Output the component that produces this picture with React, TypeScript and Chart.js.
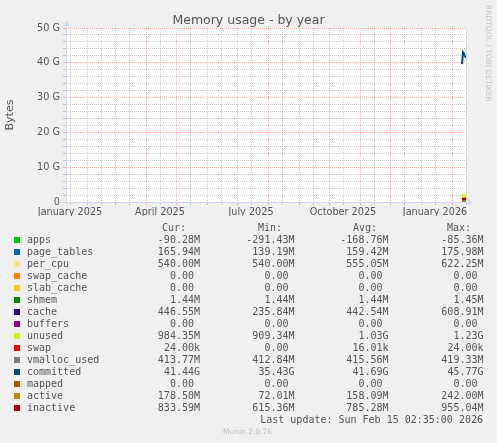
import { useEffect, useRef } from 'react';
import { Chart, registerables, Plugin } from 'chart.js';

Chart.register(...registerables);

const W = 497;
const H = 443;

// x is "days since 2025-01-01"; one pixel per day in the year graph
const xMin = 10; // 2025-01-11
const xMax = 410; // 2026-02-15
const monthStarts = [31, 59, 90, 120, 151, 181, 212, 243, 273, 304, 334, 365, 396];
const midMonths = [14, 45, 73, 104, 134, 165, 195, 226, 257, 287, 318, 348, 379, 410];
const xLabelDays = [14, 104, 195, 287, 379];
const xLabelTexts = ['January 2025', 'April 2025', 'July 2025', 'October 2025', 'January 2026'];

const yMax = 50;
const yGridValues = [0, 2, 4, 6, 8, 10, 12, 14, 16, 18, 20, 22, 24, 26, 28, 30, 32, 34, 36, 38, 40, 42, 44, 46, 48, 50];
const yLabelValues = [0, 10, 20, 30, 40, 50];
const yLabelTexts = ['0', '10 G', '20 G', '30 G', '40 G', '50 G'];

// only the last few days hold data (values in G)
const sampleDays = [406, 407, 408, 409, 410];
const apps = [-0.21, -0.26, -0.17, -0.12, -0.09];
const pageTables = [0.15, 0.16, 0.16, 0.17, 0.17];
const perCpu = [0.62, 0.55, 0.54, 0.54, 0.54];
const swapCache = [0, 0, 0, 0, 0];
const slabCache = [0, 0, 0, 0, 0];
const shmem = [0.0014, 0.0014, 0.0014, 0.0014, 0.0014];
const cache = [0.25, 0.42, 0.55, 0.5, 0.44];
const buffers = [0, 0, 0, 0, 0];
const unused = [1.2, 1.05, 0.93, 0.96, 0.96];
const swap = [0, 0.00002, 0.00002, 0.00002, 0.00002];
const vmallocUsed = [0.41, 0.414, 0.416, 0.417, 0.414];
const committed = [39.6, 43.0, 42.6, 41.9, 41.44];
const mapped = [0, 0, 0, 0, 0];
const active = [0.24, 0.16, 0.13, 0.15, 0.17];
const inactive = [0.65, 0.76, 0.84, 0.86, 0.81];

const seriesNames = ['apps', 'page_tables', 'per_cpu', 'swap_cache', 'slab_cache', 'shmem', 'cache', 'buffers',
  'unused', 'swap', 'vmalloc_used', 'committed', 'mapped', 'active', 'inactive'];
const seriesColors = ['#00CC00', '#0066B3', '#FFE680', '#FF8000', '#FFCC00', '#008F00', '#330099', '#990099',
  '#CCFF00', '#FF0000', '#808080', '#00487D', '#B35A00', '#B38F00', '#B30000'];
const seriesValues = [apps, pageTables, perCpu, swapCache, slabCache, shmem, cache, buffers,
  unused, swap, vmallocUsed, committed, mapped, active, inactive];
const stackedCount = 10; // first ten are stacked areas, rest are lines

const curValues = ['-90.28M', '165.94M', '540.00M', '0.00', '0.00', '1.44M', '446.55M', '0.00', '984.35M', '24.00k', '413.77M', '41.44G', '0.00', '178.50M', '833.59M'];
const minValues = ['-291.43M', '139.19M', '540.00M', '0.00', '0.00', '1.44M', '235.84M', '0.00', '909.34M', '0.00', '412.84M', '35.43G', '0.00', '72.01M', '615.36M'];
const avgValues = ['-168.76M', '159.42M', '555.05M', '0.00', '0.00', '1.44M', '442.54M', '0.00', '1.03G', '16.01k', '415.56M', '41.69G', '0.00', '158.09M', '785.28M'];
const maxValues = ['-85.36M', '175.98M', '622.25M', '0.00', '0.00', '1.45M', '608.91M', '0.00', '1.23G', '24.00k', '419.33M', '45.77G', '0.00', '242.00M', '955.04M'];

const GRID = 'rgba(130,130,130,0.42)';
const MGRID = 'rgba(225,70,70,0.4)';
const AXIS = '#CFD6F8';
const FONT = '#555';
const SANS = '"DejaVu Sans", sans-serif';
const MONO = '"DejaVu Sans Mono", monospace';

const frame: Plugin = {
  id: 'frame',
  beforeDraw(chart) {
    const { ctx, chartArea: a } = chart;
    ctx.save();
    ctx.fillStyle = '#FFFFFF';
    ctx.fillRect(a.left, a.top, a.right - a.left, a.bottom - a.top);
    ctx.restore();
  },
  afterDraw(chart) {
    const { ctx, chartArea: a } = chart;
    const x0 = Math.round(a.left) + 0.5;
    const y0 = Math.round(a.bottom) + 0.5;
    ctx.save();
    ctx.strokeStyle = AXIS;
    ctx.fillStyle = AXIS;
    ctx.lineWidth = 1;
    ctx.beginPath();
    ctx.moveTo(x0, y0 + 2);
    ctx.lineTo(x0, a.top - 3);
    ctx.moveTo(x0 - 2, y0);
    ctx.lineTo(a.right + 3, y0);
    ctx.stroke();
    ctx.beginPath();
    ctx.moveTo(x0, a.top - 7);
    ctx.lineTo(x0 - 3, a.top - 2);
    ctx.lineTo(x0 + 3, a.top - 2);
    ctx.closePath();
    ctx.fill();
    ctx.beginPath();
    ctx.moveTo(a.right + 7, y0);
    ctx.lineTo(a.right + 2, y0 - 3);
    ctx.lineTo(a.right + 2, y0 + 3);
    ctx.closePath();
    ctx.fill();
    ctx.restore();
  },
};

function fmt(v: string) {
  return /[0-9]$/.test(v) ? v + ' ' : v;
}

export default function App() {
  const canvasRef = useRef<HTMLCanvasElement>(null);

  useEffect(() => {
    if (!canvasRef.current) return;
    const pts = (vals: number[]) => sampleDays.map((d, i) => ({ x: d, y: vals[i] }));

    const lineSets = seriesNames.slice(stackedCount).map((name, j) => {
      const i = stackedCount + j;
      return {
        label: name,
        data: pts(seriesValues[i]),
        stack: 'line_' + name,
        borderColor: seriesColors[i],
        backgroundColor: seriesColors[i],
        borderWidth: 2,
        pointRadius: 0,
        fill: false,
      };
    });
    const areaSets = seriesNames.slice(0, stackedCount).map((name, i) => ({
      label: name,
      data: pts(seriesValues[i]),
      stack: 'mem',
      borderColor: seriesColors[i],
      backgroundColor: seriesColors[i],
      borderWidth: 0,
      pointRadius: 0,
      fill: i === 0 ? 'origin' : 'stack',
    }));

    const chart = new Chart(canvasRef.current, {
      type: 'line',
      data: { datasets: [...lineSets.reverse(), ...areaSets] as any },
      options: {
        responsive: false,
        animation: false,
        layout: { padding: { left: 0, top: 28, right: 31, bottom: 227 } },
        plugins: {
          legend: { display: false },
          tooltip: { enabled: false },
          title: { display: false },
        },
        scales: {
          x: {
            type: 'linear',
            min: xMin,
            max: xMax,
            afterBuildTicks: (scale: any) => {
              scale.ticks = [...monthStarts, ...midMonths].sort((a, b) => a - b).map(v => ({ value: v }));
            },
            afterFit: (scale: any) => { scale.height = 14; },
            ticks: {
              autoSkip: false,
              maxRotation: 0,
              padding: 2,
              color: FONT,
              font: { family: SANS, size: 9.7 },
              callback: (v: any) => {
                const k = xLabelDays.indexOf(Number(v));
                return k >= 0 ? xLabelTexts[k] : '';
              },
            },
            grid: {
              color: (c: any) => (monthStarts.includes(c.tick?.value) ? MGRID : GRID),
              tickColor: (c: any) => (monthStarts.includes(c.tick?.value) ? MGRID : GRID),
              tickLength: 3,
              tickBorderDash: [],
              lineWidth: 1,
            },
            border: { display: false, dash: [1, 1] },
          },
          y: {
            type: 'linear',
            min: 0,
            max: yMax,
            stacked: true,
            afterBuildTicks: (scale: any) => {
              scale.ticks = yGridValues.map(v => ({ value: v }));
            },
            afterFit: (scale: any) => { scale.width = 66; },
            ticks: {
              autoSkip: false,
              padding: 3,
              color: FONT,
              font: { family: SANS, size: 9.7 },
              callback: (v: any) => {
                const k = yLabelValues.indexOf(Number(v));
                return k >= 0 ? yLabelTexts[k] : '';
              },
            },
            grid: {
              color: (c: any) => (yLabelValues.includes(c.tick?.value) ? MGRID : GRID),
              tickColor: (c: any) => (yLabelValues.includes(c.tick?.value) ? MGRID : GRID),
              tickLength: 3,
              tickBorderDash: [],
              lineWidth: 1,
            },
            border: { display: false, dash: [1, 1] },
            title: {
              display: true,
              text: 'Bytes',
              color: FONT,
              font: { family: SANS, size: 11 },
              padding: { top: 4, bottom: 0 },
            },
          },
        },
      },
      plugins: [frame],
    });

    return () => {
      chart.destroy();
    };
  }, []);

  const rowTop = (i: number) => 240 + 12 * i - 6;
  const cols = [
    { values: curValues, right: 200, head: 'Cur:', headLeft: 162 },
    { values: minValues, right: 294.5, head: 'Min:', headLeft: 258 },
    { values: avgValues, right: 388.5, head: 'Avg:', headLeft: 353 },
    { values: maxValues, right: 483.5, head: 'Max:', headLeft: 447 },
  ];
  const mono = { position: 'absolute' as const, fontFamily: MONO, fontSize: 10, lineHeight: '12px', color: FONT, whiteSpace: 'pre' as const };

  return (
    <div style={{ position: 'fixed', left: 0, top: 0, width: W, height: H, background: '#F0F0F0', overflow: 'hidden' }}>
      <canvas ref={canvasRef} width={W} height={H} style={{ position: 'absolute', left: 0, top: 0, width: W, height: H }} />
      <div style={{ position: 'absolute', left: 0, top: 12, width: W, textAlign: 'center', fontFamily: SANS, fontSize: 12.5, lineHeight: '15px', color: FONT }}>
        Memory usage - by year
      </div>
      <div style={{ position: 'absolute', left: 483, top: 5, writingMode: 'vertical-rl', fontFamily: SANS, fontSize: 7.5, lineHeight: '10px', color: '#C4C4C4', whiteSpace: 'nowrap' }}>
        RRDTOOL / TOBI OETIKER
      </div>
      {cols.map(c => (
        <div key={c.head} style={{ ...mono, left: c.headLeft, top: 228 - 6 }}>{c.head}</div>
      ))}
      {seriesNames.map((name, i) => (
        <div key={name}>
          <div style={{ position: 'absolute', left: 14, top: rowTop(i) + 3, width: 6, height: 6, background: seriesColors[i] }} />
          <div style={{ ...mono, left: 27, top: rowTop(i) }}>{name}</div>
          {cols.map(c => (
            <div key={c.head} style={{ ...mono, right: W - c.right, top: rowTop(i), textAlign: 'right' }}>{fmt(c.values[i])}</div>
          ))}
        </div>
      ))}
      <div style={{ ...mono, right: W - 483, top: 420 - 6, textAlign: 'right' }}>Last update: Sun Feb 15 02:35:00 2026</div>
      <div style={{ position: 'absolute', left: 223, top: 427, fontFamily: SANS, fontSize: 7.5, lineHeight: '10px', color: '#BDBDBD' }}>Munin 2.0.76</div>
    </div>
  );
}
